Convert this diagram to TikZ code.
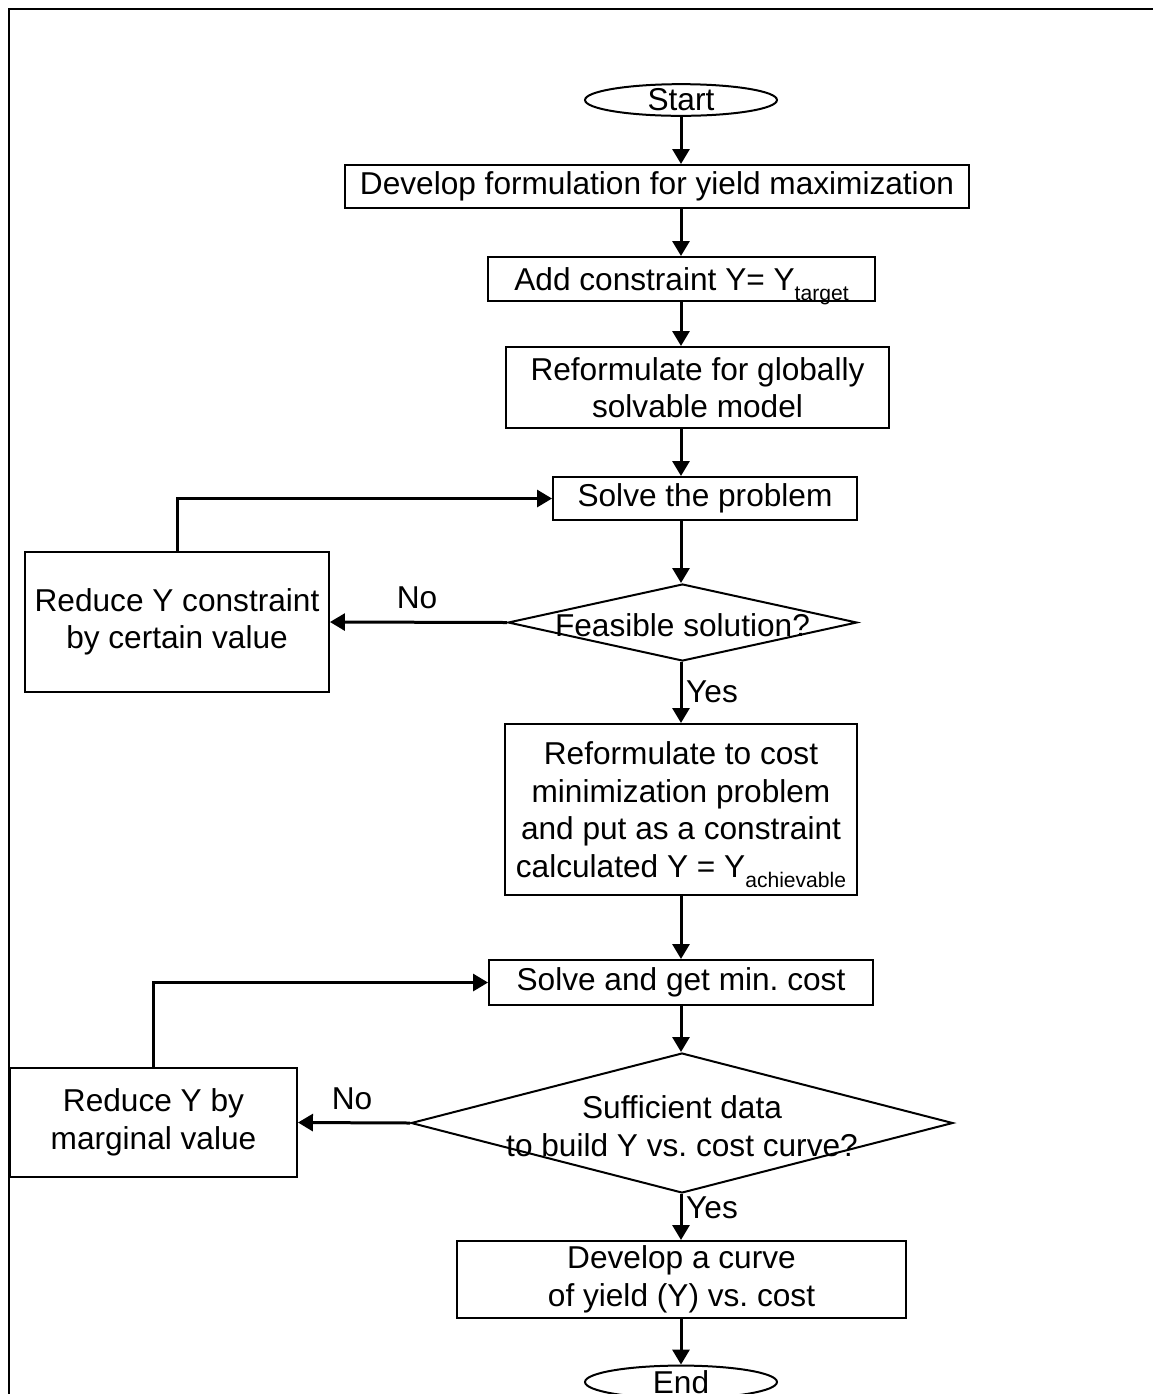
\documentclass[tikz,border=0pt]{standalone}
\usepackage{fontspec}
\setmainfont{Liberation Sans}
\usetikzlibrary{shapes.geometric,arrows.meta}
\frenchspacing
\newcommand{\sbs}[1]{\raisebox{-6pt}[0pt][0pt]{\fontsize{12}{12}\selectfont #1}}
\tikzset{
  box/.style={draw, line width=0.04cm, rectangle, inner sep=0pt, align=center, font=\fontsize{18}{21.4}\selectfont},
  term/.style={draw, line width=0.04cm, ellipse, inner sep=0pt, font=\fontsize{18}{21.4}\selectfont},
  dia/.style={draw, line width=0.04cm, diamond, inner sep=0pt},
  dtext/.style={align=center, inner sep=0pt, font=\fontsize{18}{21.4}\selectfont},
  lbl/.style={inner sep=0pt, font=\fontsize{18}{21.4}\selectfont},
  arr/.style={line width=0.06cm, -{Triangle[length=0.3cm,width=0.34cm]}},
}
\begin{document}
\begin{tikzpicture}[x=0.02cm,y=-0.02cm]
\useasboundingbox (0,0) rectangle (1153,1394);
% frame (top and left edges)
\draw[line width=0.05cm] (9,1394) -- (9,9) -- (1153,9);

\coordinate (col) at (681,0);

\node[term, minimum width=3.84cm, minimum height=0.52cm] (start) at (681,100) {Start};
\node[box, minimum width=12.5cm, minimum height=0.86cm] (b2) at (657,186.5) {Develop formulation for yield maximization};
\node[box, minimum width=7.74cm, minimum height=0.88cm] (b3) at (681.5,279) {Add constraint Y= Y\sbs{target}};
\node[box, minimum width=7.66cm, minimum height=1.62cm] (b4) at (697.5,387.5) {Reformulate for globally\\solvable model};
\node[box, minimum width=6.08cm, minimum height=0.86cm] (b5) at (705,498.5) {Solve the problem};
\node[dia, minimum width=6.98cm, minimum height=1.54cm] (d1) at (682.5,622.5) {};
\node[dtext] (d1t) at (682.5,625) {Feasible solution?};
\node[box, minimum width=6.08cm, minimum height=2.8cm] (b7) at (177,622) {Reduce Y constraint\\by certain value};
\node[box, minimum width=7.04cm, minimum height=3.42cm] (b8) at (681,809.5) {Reformulate to cost\\minimization problem\\and put as a constraint\\calculated Y = Y\sbs{achievable}};
\node[box, minimum width=7.68cm, minimum height=0.9cm] (b9) at (681,982.5) {Solve and get min. cost};
\node[dia, minimum width=10.84cm, minimum height=2.8cm] (d2) at (682,1123) {};
\node[dtext] (d2t) at (682,1126) {Sufficient data\\to build Y vs. cost curve?};
\node[box, minimum width=5.74cm, minimum height=2.18cm] (b11) at (153.5,1122.5) {Reduce Y by\\marginal value};
\node[box, minimum width=8.98cm, minimum height=1.54cm] (b12) at (681.5,1279.5) {Develop a curve\\ of yield (Y) vs. cost};
\node[term, minimum width=3.84cm, minimum height=0.56cm] (end) at (681,1382) {End};

% main flow
\draw[arr] (start.south) -- (start.south |- b2.north);
\draw[arr] (col |- b2.south) -- (col |- b3.north);
\draw[arr] (col |- b3.south) -- (col |- b4.north);
\draw[arr] (col |- b4.south) -- (col |- b5.north);
\draw[arr] (col |- b5.south) -- (col |- d1.north);
\draw[arr] (col |- d1.south) -- (col |- b8.north);
\draw[arr] (b8.south) -- (b9.north);
\draw[arr] (b9.south) -- (b9.south |- d2.north);
\draw[arr] (b9.south |- d2.south) -- (b9.south |- b12.north);
\draw[arr] (b9.south |- b12.south) -- (b9.south |- end.north);

% branches
\draw[arr] (d1.west) -- (b7.east);
\draw[arr] (b7.north) |- (b5.west);
\draw[arr] (d2.west) -- (b11.east);
\draw[arr] (b11.north) |- (b9.west);

% labels
\node[lbl] (no1) at (417,598) {No};
\node[lbl] (yes1) at (712,692) {Yes};
\node[lbl] (no2) at (352,1099) {No};
\node[lbl] (yes2) at (712,1208) {Yes};
\end{tikzpicture}
\end{document}
